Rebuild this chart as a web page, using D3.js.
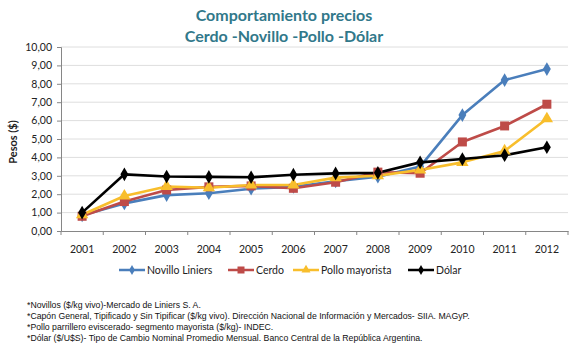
<!DOCTYPE html>
<html><head><meta charset="utf-8">
<script src="https://cdn.jsdelivr.net/npm/d3@7"></script>
<style>body{margin:0;background:#fff}svg{display:block}</style>
</head><body>
<script>
const years = ["2001","2002","2003","2004","2005","2006","2007","2008","2009","2010","2011","2012"];
const novillo = [0.85,1.5,1.95,2.05,2.3,2.4,2.7,2.95,3.5,6.3,8.2,8.8];
const cerdo   = [0.8,1.6,2.23,2.4,2.45,2.32,2.65,3.2,3.14,4.84,5.71,6.89];
const pollo   = [0.88,1.9,2.42,2.35,2.5,2.5,2.9,3.0,3.32,3.73,4.35,6.1];
const dolar   = [1.0,3.08,2.96,2.94,2.92,3.06,3.13,3.16,3.73,3.91,4.12,4.55];
const yTicks = [0,1,2,3,4,5,6,7,8,9,10];
const seriesNames = ["Novillo Liniers","Cerdo","Pollo mayorista","Dólar"];
const notes = [
 "*Novillos ($/kg vivo)-Mercado de Liniers S. A.",
 "*Capón General, Tipificado y Sin Tipificar ($/kg vivo). Dirección Nacional de Información y Mercados- SIIA. MAGyP.",
 "*Pollo parrillero eviscerado- segmento mayorista ($/kg)- INDEC.",
 "*Dólar ($/U$S)- Tipo de Cambio Nominal Promedio Mensual. Banco Central de la República Argentina."
];
const series = [
 {name:seriesNames[0], values:novillo, color:"#4A7EBB", marker:"diamond"},
 {name:seriesNames[1], values:cerdo, color:"#BE4B48", marker:"square"},
 {name:seriesNames[2], values:pollo, color:"#F8BE2C", marker:"triangle"},
 {name:seriesNames[3], values:dolar, color:"#000000", marker:"diamond"}
];
const W=580,H=357;
const svg=d3.select("body").append("svg").attr("width",W).attr("height",H);
const font="Lato, 'Open Sans', sans-serif";
const x=d3.scaleBand().domain(years).range([61,568]);
const y=d3.scaleLinear().domain([0,10]).range([231,47]);

// title
const t=svg.append("text").attr("text-anchor","middle").attr("fill","#31788A")
  .style("font-family",font).style("font-weight","bold").style("font-size","16px");
t.append("tspan").attr("x",284).attr("y",21).text("Comportamiento precios");
t.append("tspan").attr("x",284).attr("y",42).text("Cerdo -Novillo -Pollo -Dólar");

// grid
svg.append("g").selectAll("line").data(yTicks.filter(d=>d>0)).join("line")
  .attr("x1",61).attr("x2",568).attr("y1",d=>y(d)).attr("y2",d=>y(d))
  .attr("stroke","#DEDEDE").attr("stroke-width",1);

// y axis
const ya=svg.append("g").attr("transform","translate(61,0)")
  .call(d3.axisLeft(y).tickValues(yTicks).tickSize(4).tickFormat(d=>d3.format(".2f")(d).replace(".",",")));
ya.select(".domain").attr("stroke","#868686");
ya.selectAll(".tick line").attr("stroke","#868686");
ya.selectAll("text").style("font-family",font).style("font-size","10.5px").attr("fill","#222").attr("dx","-2");

// x axis
const xa=svg.append("g").attr("transform","translate(0,231)")
  .call(d3.axisBottom(x).tickSize(0).tickPadding(15));
xa.select(".domain").attr("stroke","#868686");
xa.selectAll("text").style("font-family",font).style("font-size","10.5px").attr("fill","#222");
svg.append("g").selectAll("line").data(years.concat(["end"])).join("line")
  .attr("x1",(d,i)=>61+i*x.step()).attr("x2",(d,i)=>61+i*x.step())
  .attr("y1",231).attr("y2",235).attr("stroke","#868686");

// y label
svg.append("text").attr("transform","translate(17,142) rotate(-90)").attr("text-anchor","middle")
  .style("font-family",font).style("font-weight","bold").style("font-size","11px").attr("fill","#222").text("Pesos ($)");

function marker(g,type,color,size){
  if(type==="diamond") g.append("path").attr("d",d3.symbol(d3.symbolDiamond,size*0.9)()).attr("fill",color);
  else if(type==="square") g.append("rect").attr("x",-4.5).attr("y",-4.5).attr("width",9).attr("height",9).attr("fill",color);
  else g.append("path").attr("d",d3.symbol(d3.symbolTriangle,size*1.1)()).attr("fill",color);
}
const line=d3.line().x((d,i)=>x(years[i])+x.bandwidth()/2).y(d=>y(d));
series.forEach(s=>{
  svg.append("path").datum(s.values).attr("d",line).attr("fill","none")
    .attr("stroke",s.color).attr("stroke-width",2.6).attr("stroke-linejoin","round");
});
series.forEach(s=>{
  s.values.forEach((v,i)=>{
    const g=svg.append("g").attr("transform",`translate(${x(years[i])+x.bandwidth()/2},${y(v)})`);
    marker(g,s.marker,s.color,60);
  });
});

// legend
const lx=[119,228,293,408];
series.forEach((s,i)=>{
  const g=svg.append("g").attr("transform",`translate(${lx[i]},270)`);
  g.append("line").attr("x1",0).attr("x2",26).attr("stroke",s.color).attr("stroke-width",2.5);
  const m=g.append("g").attr("transform","translate(13,0)");
  marker(m,s.marker,s.color,s.marker==="square"?30:32);
  if(s.marker==="square") m.select("rect").attr("x",-3.5).attr("y",-3.5).attr("width",7).attr("height",7);
  g.append("text").attr("x",28).attr("y",4).style("font-family",font).style("font-size","10.5px").attr("fill","#222").text(s.name);
});

// notes
svg.append("g").selectAll("text").data(notes).join("text")
  .attr("x",27).attr("y",(d,i)=>308+i*11)
  .style("font-family","'Liberation Sans', Arial, sans-serif").style("font-size","8.7px").attr("fill","#111")
  .text(d=>d);
</script>
</body></html>
